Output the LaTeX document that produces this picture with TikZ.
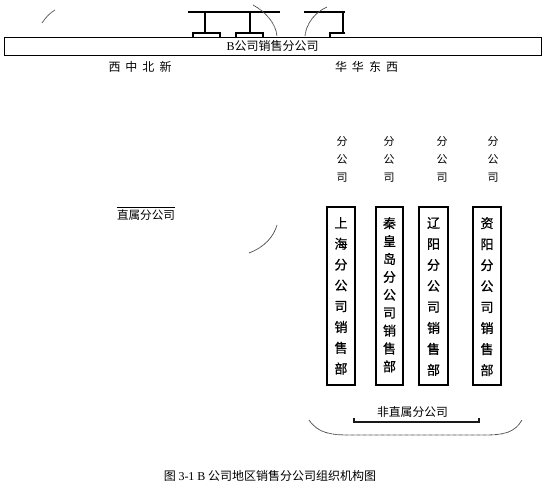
\documentclass[tikz,border=0pt]{standalone}
\usepackage{fontspec}
\setmainfont{Noto Sans CJK SC}
\newfontfamily\latinfont{Liberation Serif}
\newfontfamily\deptfont[FakeBold=0.8]{Noto Sans CJK SC}

\tikzset{
  deptbox/.style={draw, line width=1.5pt, minimum width=28pt, minimum height=178pt, inner sep=0pt},
  vtext/.style={anchor=north, align=center, inner sep=0pt},
  scanline/.style={gray!60!black, line width=0.8pt, dash pattern=on 0.8pt off 0.4pt},
}

\begin{document}
\begin{tikzpicture}[x=1pt, y=-1pt]
    \useasboundingbox (0,0) rectangle (559,489);

    % Leftover strokes at the top
    \draw[line width=1.2pt] (188,12) -- (280,12);
    \draw[line width=1.2pt] (205,12) -- (205,33) (250,12) -- (250,33);
    \draw[line width=1.2pt] (193,37) -- (193,33) -- (220,33) -- (220,37);
    \draw[line width=1.2pt] (236,37) -- (236,33) -- (263,33) -- (263,37);
    \draw[line width=1.2pt] (304,12) -- (345,12) (343,12) -- (343,33);
    \draw[line width=1.2pt] (330,37) -- (330,33) -- (345,33);
    \draw[scanline] (253,5) .. controls (266,12) and (276,24) .. (277,36);
    \draw[scanline] (305,36) .. controls (306,24) and (315,12) .. (327,7);
    \draw[scanline] (42,23) .. controls (46,17) and (50,13) .. (55,10);

    % Head office box
    \node[draw, line width=0.8pt, minimum width=537pt, minimum height=18pt, inner sep=0pt,
          font=\fontsize{12pt}{14pt}\selectfont] (zongbu) at (272.5,46)
          {{\latinfont B}公司销售分公司};

    % Region names under the box
    \node[font=\fontsize{12pt}{14pt}\selectfont] (xibei) at (140,67)
          {西\hspace{5pt}中\hspace{5pt}北\hspace{5pt}新};
    \node[font=\fontsize{12pt}{14pt}\selectfont] (huadong) at (366.5,67)
          {华\hspace{5pt}华\hspace{5pt}东\hspace{5pt}西};

    % Directly owned branches
    \node[inner sep=0pt, font=\fontsize{11.6pt}{14pt}\selectfont] (zhishu) at (146,215) {直属分公司};
    \draw[line width=0.8pt] ([yshift=2.5pt]zhishu.north west) -- ([yshift=2.5pt]zhishu.north east);
    \draw[scanline] (249,253) .. controls (265,247) and (274,236) .. (277,225);

    % Branch headings
    \node[vtext, font=\fontsize{11pt}{18pt}\selectfont] (fen1) at (342,136) {分\\公\\司};
    \node[vtext, font=\fontsize{11pt}{18pt}\selectfont] (fen2) at (389,136) {分\\公\\司};
    \node[vtext, font=\fontsize{11pt}{18pt}\selectfont] (fen3) at (442,136) {分\\公\\司};
    \node[vtext, font=\fontsize{11pt}{18pt}\selectfont] (fen4) at (493,136) {分\\公\\司};

    % Sales departments
    \node[deptbox] (shanghai) at (341,296) {};
    \node[deptbox, minimum width=27pt] (qinhuangdao) at (389.5,296) {};
    \node[deptbox, minimum width=29pt] (liaoyang) at (433.5,296) {};
    \node[deptbox] (ziyang) at (487,296) {};
    \node[vtext, font=\deptfont\fontsize{13pt}{20.8pt}\selectfont] (shanghaiT) at (341,217)
          {上\\海\\分\\公\\司\\销\\售\\部};
    \node[vtext, font=\deptfont\fontsize{13pt}{17.9pt}\selectfont] (qinhuangdaoT) at (389.5,217)
          {秦\\皇\\岛\\分\\公\\司\\销\\售\\部};
    \node[vtext, font=\deptfont\fontsize{13pt}{21pt}\selectfont] (liaoyangT) at (433.5,217)
          {辽\\阳\\分\\公\\司\\销\\售\\部};
    \node[vtext, font=\deptfont\fontsize{13pt}{21pt}\selectfont] (ziyangT) at (487,217)
          {资\\阳\\分\\公\\司\\销\\售\\部};

    % Not directly owned branches
    \node[font=\fontsize{11.8pt}{14pt}\selectfont] (feizhishu) at (412.5,412) {非直属分公司};
    \draw[line width=1.2pt, gray!20!black] (354,418) -- (354,422) -- (479,422) -- (479,418);
    \draw[scanline] (309,420) .. controls (318,433) and (330,435) .. (350,435)
          -- (485,435) .. controls (505,435) and (515,432) .. (522,420);

    % Caption
    \node[font=\fontsize{12pt}{14pt}\selectfont] (caption) at (270,476)
          {图 {\latinfont 3-1 B} 公司地区销售分公司组织机构图};
\end{tikzpicture}
\end{document}
